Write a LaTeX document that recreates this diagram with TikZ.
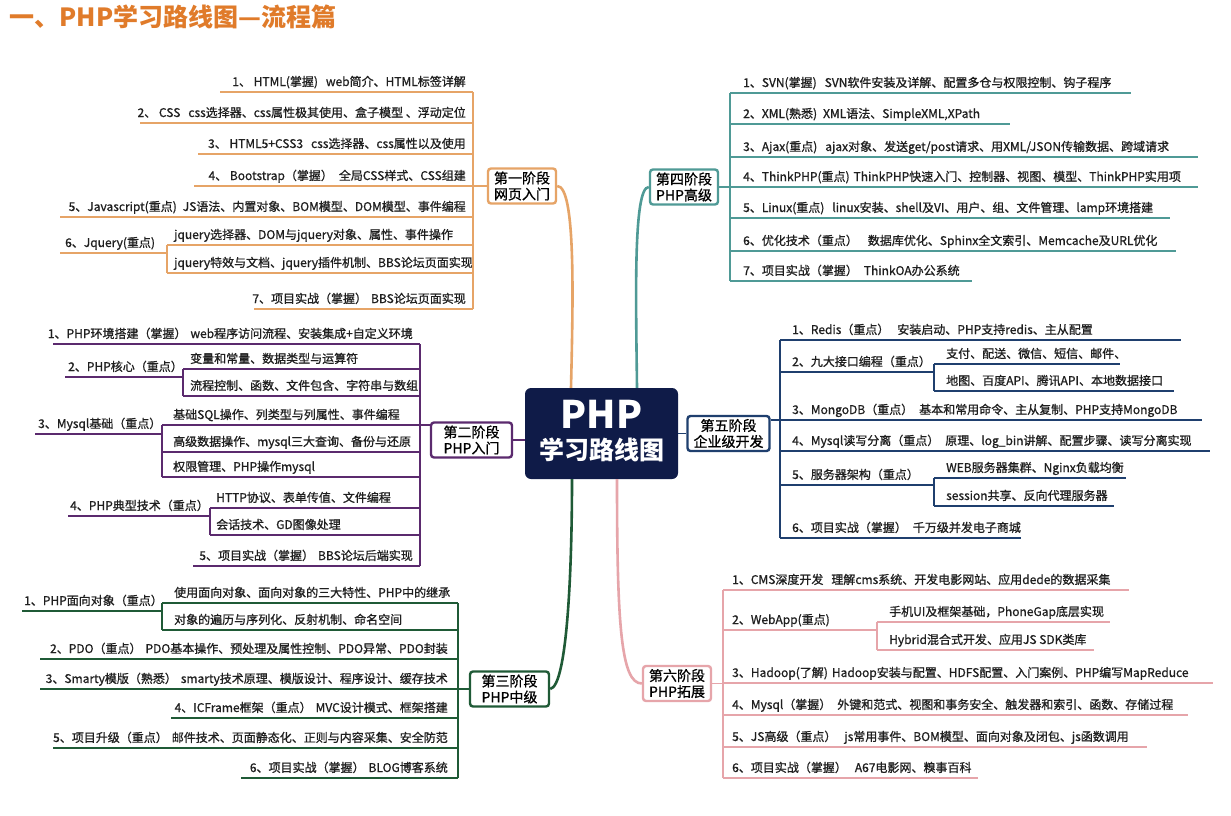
\documentclass[tikz,border=0pt]{standalone}
\usepackage{fontspec}
\setmainfont{Noto Sans CJK SC}[UprightFeatures={FakeBold=0.9}]
\definecolor{titleorange}{HTML}{E07B2A}
\definecolor{phpnavy}{HTML}{0F1B48}
\definecolor{lineone}{HTML}{E6A467}
\definecolor{linetwo}{HTML}{5B2A6E}
\definecolor{linethree}{HTML}{1F5A36}
\definecolor{linefour}{HTML}{4F9A96}
\definecolor{linefive}{HTML}{1F3F6E}
\definecolor{linesix}{HTML}{E6A5AA}
\begin{document}
\begin{tikzpicture}[x=1pt,y=-1pt,
  item/.style={inner sep=0pt,text=black!88,font=\fontsize{12}{14}\selectfont},
  stage/.style={draw,fill=white,rounded corners=3pt,line width=2.4pt,align=center,
    inner xsep=6pt,inner ysep=3pt,font=\fontsize{14}{16}\selectfont},
  leafline/.style={line width=1.3pt},
  stemline/.style={line width=2.6pt}]
  \fill [white] (0,0) rectangle (1231,816);
  \useasboundingbox (0,0) rectangle (1231,816);
  \node [anchor=west,text=titleorange,font=\fontsize{25}{25}\selectfont\bfseries]
    (title) at (6,17) {一、PHP学习路线图—流程篇};
  % centre
  \node [fill=phpnavy,rounded corners=6pt,minimum width=153pt,minimum height=91pt,inner sep=0pt]
    (php) at (601.5,433.5) {};
  \node [anchor=base,text=white,font=\fontsize{38}{38}\selectfont\bfseries]
    (php name) at (601.5,428) {PHP};
  \node [anchor=base,text=white,font=\fontsize{25}{25}\selectfont\bfseries]
    (php road) at (601.5,459) {学习路线图};
  % stage one
  \foreach \ly/\lx/\txt in {
    92/220/{1、 HTML(掌握)\hspace{8pt}web简介、HTML标签详解},
    123/140/{2、 CSS\hspace{8pt}css选择器、css属性极其使用、盒子模型 、浮动定位},
    154/198/{3、 HTML5+CSS3\hspace{8pt}css选择器、css属性以及使用},
    186/194/{4、 Bootstrap（掌握）\hspace{6pt}全局CSS样式、CSS组建},
    217/60/{5、Javascript(重点)\hspace{6pt}JS语法、内置对象、BOM模型、DOM模型、事件编程},
    309/254/{7、项目实战（掌握）\hspace{4pt}BBS论坛页面实现}}{
    \node [item,anchor=base east] (one \ly) at (466,\ly-6) {\txt};
    \draw [leafline,lineone] (\lx,\ly) -- (473,\ly);
  }
  \node [item,anchor=base west] (jquery) at (65,247) {6、Jquery(重点)};
  \draw [leafline,lineone] (60,253) -- (167,253);
  \draw [leafline,lineone] (167,245) -- (167,273);
  \foreach \ly/\txt in {
    245/{jquery选择器、DOM与jquery对象、属性、事件操作},
    273/{jquery特效与文档、jquery插件机制、BBS论坛页面实现}}{
    \node [item,anchor=base west] (jquery \ly) at (174,\ly-6) {\txt};
    \draw [leafline,lineone] (167,\ly) -- (473,\ly);
  }
  \draw [leafline,lineone] (473,92) -- (473,309);
  \node [stage,draw=lineone] (stage one) at (522,186) {第一阶段\\网页入门};
  \draw [leafline,lineone] (473,186) -- (stage one.west);
  \draw [stemline,lineone] (stage one.east) .. controls (576,186) and (573,300) .. (php.north -| 571,0);
  % stage two
  \foreach \ly/\lx/\txt in {
    344/53/{1、PHP环境搭建（掌握）\hspace{4pt}web程序访问流程、安装集成+自定义环境},
    566/193/{5、项目实战（掌握）\hspace{4pt}BBS论坛后端实现}}{
    \node [item,anchor=base east] (two \ly) at (413,\ly-6) {\txt};
    \draw [leafline,linetwo] (\lx,\ly) -- (420,\ly);
  }
  \node [item,anchor=base west] (core) at (68,371) {2、PHP核心（重点）};
  \draw [leafline,linetwo] (65,377) -- (183,377);
  \draw [leafline,linetwo] (183,369) -- (183,396);
  \foreach \ly/\txt in {
    369/{变量和常量、数据类型与运算符},
    396/{流程控制、函数、文件包含、字符串与数组}}{
    \node [item,anchor=base west] (core \ly) at (190,\ly-6) {\txt};
    \draw [leafline,linetwo] (183,\ly) -- (420,\ly);
  }
  \node [item,anchor=base west] (mysql) at (38,428) {3、Mysql基础（重点）};
  \draw [leafline,linetwo] (35,434) -- (162,434);
  \draw [leafline,linetwo] (162,425) -- (162,477);
  \foreach \ly/\txt in {
    425/{基础SQL操作、列类型与列属性、事件编程},
    452/{高级数据操作、mysql三大查询、备份与还原},
    477/{权限管理、PHP操作mysql}}{
    \node [item,anchor=base west] (mysql \ly) at (173,\ly-6) {\txt};
    \draw [leafline,linetwo] (162,\ly) -- (420,\ly);
  }
  \node [item,anchor=base west] (typical) at (70,510) {4、PHP典型技术（重点）};
  \draw [leafline,linetwo] (68,516) -- (210,516);
  \draw [leafline,linetwo] (210,508) -- (210,535);
  \foreach \ly/\txt in {
    508/{HTTP协议、表单传值、文件编程},
    535/{会话技术、GD图像处理}}{
    \node [item,anchor=base west] (typical \ly) at (216,\ly-6) {\txt};
    \draw [leafline,linetwo] (210,\ly) -- (420,\ly);
  }
  \draw [leafline,linetwo] (420,344) -- (420,566);
  \node [stage,draw=linetwo,minimum width=81pt] (stage two) at (471.5,440) {第二阶段\\PHP入门};
  \draw [leafline,linetwo] (420,425) -- (stage two.west |- 0,425);
  \draw [leafline,linetwo] (stage two.east) -- (php.west |- stage two.east);
  % stage three
  \foreach \ly/\lx/\txt in {
    659/40/{2、PDO（重点）\hspace{4pt}PDO基本操作、预处理及属性控制、PDO异常、PDO封装},
    689/40/{3、Smarty模版（熟悉）\hspace{4pt}smarty技术原理、模版设计、程序设计、缓存技术},
    718/171/{4、ICFrame框架（重点）\hspace{4pt}MVC设计模式、框架搭建},
    748/53/{5、项目升级（重点）\hspace{4pt}邮件技术、页面静态化、正则与内容采集、安全防范},
    778/241/{6、项目实战（掌握）\hspace{4pt}BLOG博客系统}}{
    \node [item,anchor=base east] (three \ly) at (448,\ly-6) {\txt};
    \draw [leafline,linethree] (\lx,\ly) -- (458,\ly);
  }
  \node [item,anchor=base west] (object) at (24,605) {1、PHP面向对象（重点）};
  \draw [leafline,linethree] (22,611) -- (162,611);
  \draw [leafline,linethree] (162,603) -- (162,630);
  \foreach \ly/\txt in {
    603/{使用面向对象、面向对象的三大特性、PHP中的继承},
    630/{对象的遍历与序列化、反射机制、命名空间}}{
    \node [item,anchor=base west] (object \ly) at (174,\ly-6) {\txt};
    \draw [leafline,linethree] (162,\ly) -- (458,\ly);
  }
  \draw [leafline,linethree] (458,603) -- (458,778);
  \node [stage,draw=linethree,minimum width=79pt] (stage three) at (509.5,689) {第三阶段\\PHP中级};
  \draw [leafline,linethree] (458,689) -- (stage three.west);
  \draw [stemline,linethree] (stage three.east) .. controls (568,686) and (572,560) .. (php.south -| 572,0);
  % stage four
  \foreach \ly/\lx/\txt in {
    93/1131/{1、SVN(掌握)\hspace{8pt}SVN软件安装及详解、配置多仓与权限控制、钩子程序},
    124/1010/{2、XML(熟悉)\hspace{6pt}XML语法、SimpleXML,XPath},
    157/1198/{3、Ajax(重点)\hspace{8pt}ajax对象、发送get/post请求、用XML/JSON传输数据、跨域请求},
    187/1198/{4、ThinkPHP(重点)\hspace{4pt}ThinkPHP快速入门、控制器、视图、模型、ThinkPHP实用项},
    218/1170/{5、Linux(重点)\hspace{8pt}linux安装、shell及VI、用户、组、文件管理、lamp环境搭建},
    251/1176/{6、优化技术（重点）\hspace{10pt}数据库优化、Sphinx全文索引、Memcache及URL优化},
    281/972/{7、项目实战（掌握）\hspace{6pt}ThinkOA办公系统}}{
    \node [item,anchor=base west] (four \ly) at (743,\ly-6) {\txt};
    \draw [leafline,linefour] (730,\ly) -- (\lx,\ly);
  }
  \draw [leafline,linefour] (730,93) -- (730,281);
  \node [stage,draw=linefour] (stage four) at (684,187) {第四阶段\\PHP高级};
  \draw [leafline,linefour] (stage four.east) -- (730,187);
  \draw [stemline,linefour] (stage four.west) .. controls (633,187) and (636,300) .. (php.north -| 637,0);
  % stage five
  \foreach \ly/\lx/\txt in {
    340/1181/{1、Redis（重点）\hspace{8pt}安装启动、PHP支持redis、主从配置},
    420/1202/{3、MongoDB（重点）\hspace{6pt}基本和常用命令、主从复制、PHP支持MongoDB},
    451/1210/{4、Mysql读写分离（重点）\hspace{6pt}原理、log\_bin讲解、配置步骤、读写分离实现},
    538/1021/{6、项目实战（掌握）\hspace{6pt}千万级并发电子商城}}{
    \node [item,anchor=base west] (five \ly) at (792,\ly-6) {\txt};
    \draw [leafline,linefive] (780,\ly) -- (\lx,\ly);
  }
  \node [item,anchor=base west] (api) at (792,366) {2、九大接口编程（重点）};
  \draw [leafline,linefive] (780,372) -- (934,372);
  \draw [leafline,linefive] (934,364) -- (934,391);
  \node [item,anchor=base west] (server) at (792,479) {5、服务器架构（重点）};
  \draw [leafline,linefive] (780,485) -- (934,485);
  \draw [leafline,linefive] (934,478) -- (934,506);
  \foreach \ly/\lx/\txt in {
    364/1120/{支付、配送、微信、短信、邮件、},
    391/1174/{地图、百度API、腾讯API、本地数据接口},
    478/1126/{WEB服务器集群、Nginx负载均衡},
    506/1114/{session共享、反向代理服务器}}{
    \node [item,anchor=base west] (five sub \ly) at (946,\ly-6) {\txt};
    \draw [leafline,linefive] (934,\ly) -- (\lx,\ly);
  }
  \draw [leafline,linefive] (780,340) -- (780,538);
  \node [stage,draw=linefive] (stage five) at (728.5,433.5) {第五阶段\\企业级开发};
  \draw [leafline,linefive] (stage five.east |- 0,420) -- (780,420);
  \draw [leafline,linefive] (php.east) -- (stage five.west);
  % stage six
  \foreach \ly/\lx/\txt in {
    590/1129/{1、CMS深度开发\hspace{8pt}理解cms系统、开发电影网站、应用dede的数据采集},
    683/1213/{3、Hadoop(了解)\hspace{4pt}Hadoop安装与配置、HDFS配置、入门案例、PHP编写MapReduce},
    715/1188/{4、Mysql（掌握）\hspace{6pt}外键和范式、视图和事务安全、触发器和索引、函数、存储过程},
    747/1147/{5、JS高级（重点）\hspace{8pt}js常用事件、BOM模型、面向对象及闭包、js函数调用},
    778/978/{6、项目实战（掌握）\hspace{8pt}A67电影网、糗事百科}}{
    \node [item,anchor=base west] (six \ly) at (732,\ly-6) {\txt};
    \draw [leafline,linesix] (723,\ly) -- (\lx,\ly);
  }
  \node [item,anchor=base west] (webapp) at (732,624) {2、WebApp(重点)};
  \draw [leafline,linesix] (723,630) -- (877,630);
  \draw [leafline,linesix] (877,622) -- (877,650);
  \foreach \ly/\lx/\txt in {
    622/1110/{手机UI及框架基础，PhoneGap底层实现},
    650/1094/{Hybrid混合式开发、应用JS SDK类库}}{
    \node [item,anchor=base west] (webapp \ly) at (889,\ly-6) {\txt};
    \draw [leafline,linesix] (877,\ly) -- (\lx,\ly);
  }
  \draw [leafline,linesix] (723,590) -- (723,778);
  \node [stage,draw=linesix] (stage six) at (677,683.5) {第六阶段\\PHP拓展};
  \draw [leafline,linesix] (stage six.east) -- (723,683.5);
  \draw [stemline,linesix] (php.south -| 617,0) .. controls (617,625) and (621,683.5) .. (stage six.west);
\end{tikzpicture}
\end{document}
